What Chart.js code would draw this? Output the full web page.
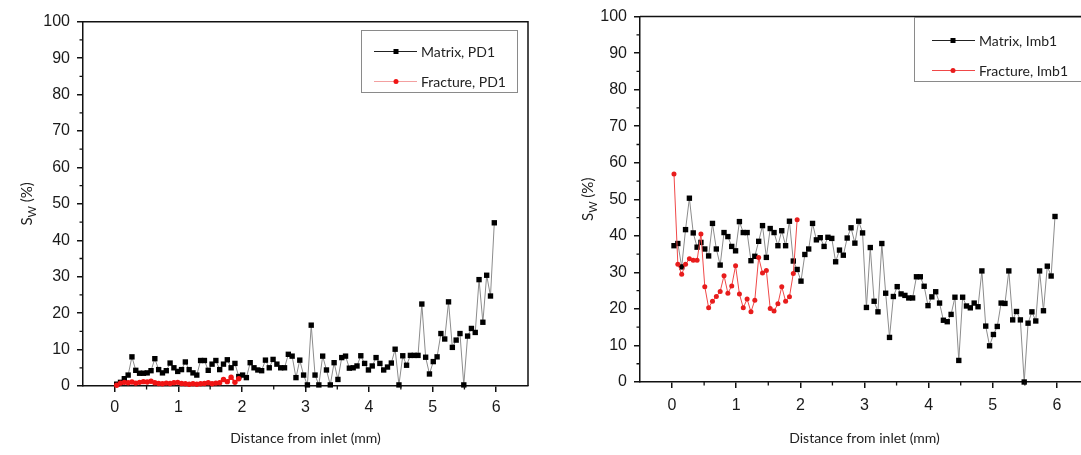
<!DOCTYPE html>
<html><head><meta charset="utf-8">
<script src="https://cdn.jsdelivr.net/npm/chart.js@4.4.1/dist/chart.umd.min.js"></script>
<style>
html,body{margin:0;padding:0;background:#fff;overflow:hidden;width:1081px;height:455px;position:relative;}
#w1{position:absolute;left:0;top:0;width:545px;height:455px;}
#w2{position:absolute;left:560px;top:0;width:545px;height:455px;}
</style></head><body>
<div id="w1"><canvas id="c1" width="545" height="455"></canvas></div>
<div id="w2"><canvas id="c2" width="545" height="455"></canvas></div>
<script>
// ---------- data ----------
const distance = [0.03,0.09,0.15,0.21,0.27,0.33,0.39,0.45,0.51,0.57,0.63,0.69,0.75,0.81,0.87,0.93,0.99,1.05,1.11,1.17,
 1.23,1.29,1.35,1.41,1.47,1.53,1.59,1.65,1.71,1.77,1.83,1.89,1.95,2.01,2.07,2.13,2.19,2.25,2.31,2.37,
 2.43,2.49,2.55,2.61,2.67,2.73,2.79,2.85,2.91,2.97,3.03,3.09,3.15,3.21,3.27,3.33,3.39,3.45,3.51,3.57,
 3.63,3.69,3.75,3.81,3.87,3.93,3.99,4.05,4.11,4.17,4.23,4.29,4.35,4.41,4.47,4.53,4.59,4.65,4.71,4.77,
 4.83,4.89,4.95,5.01,5.07,5.13,5.19,5.25,5.31,5.37,5.43,5.49,5.55,5.61,5.67,5.73,5.79,5.85,5.91,5.97];
const fractureDistance = [0.03,0.09,0.15,0.21,0.27,0.33,0.39,0.45,0.51,0.57,0.63,0.69,0.75,0.81,0.87,0.93,0.99,
 1.05,1.11,1.17,1.23,1.29,1.35,1.41,1.47,1.53,1.59,1.65,1.71,1.77,1.83,1.89,1.95];

const matrixPD1 = [0.5,1.0,2.0,3.0,8.0,4.3,3.5,3.5,3.6,4.2,
 7.5,4.5,3.6,4.2,6.3,5.0,4.0,4.5,6.6,4.5,
 3.6,3.0,7.0,7.0,4.3,6.0,7.0,4.5,6.0,7.2,
 5.0,6.2,2.6,3.0,2.3,6.4,5.0,4.4,4.2,7.1,
 5.0,7.3,6.0,5.0,5.0,8.7,8.2,2.3,7.1,3.0,
 0.3,16.7,3.0,0.3,8.2,4.4,0.3,6.4,1.8,7.8,
 8.2,4.9,5.0,5.5,8.3,6.2,4.4,5.5,7.8,6.2,
 4.4,5.2,6.3,10.1,0.3,8.3,5.7,8.4,8.4,8.4,
 22.5,7.9,3.3,6.7,8.0,14.4,12.9,23.1,10.6,12.6,
 14.4,0.3,13.7,15.8,14.7,29.2,17.5,30.4,24.7,44.8];
const fracturePD1 = [0.2,0.8,1.0,0.9,1.1,0.8,1.0,1.2,1.1,1.3,0.9,0.7,0.6,0.8,0.7,0.9,1.0,
 0.7,0.6,0.5,0.6,0.5,0.6,0.7,0.9,0.6,0.8,0.9,1.8,1.2,2.4,1.0,2.0];

const matrixImb1 = [37.3,37.9,31.5,41.7,50.3,40.8,36.9,38.2,36.4,34.5,
 43.4,36.4,32.0,40.9,39.8,37.1,35.9,43.9,40.9,40.9,
 33.2,34.4,38.5,42.8,34.1,42.0,40.9,37.3,41.4,37.3,
 44.0,33.1,30.8,27.6,34.9,36.4,43.4,38.9,39.5,37.1,
 39.6,39.3,32.9,36.1,34.7,39.4,42.2,38.0,44.0,40.8,
 20.4,36.8,22.1,19.2,37.9,24.3,12.2,23.4,26.1,24.1,
 23.7,23.0,23.0,28.8,28.8,26.2,20.9,23.3,24.7,21.6,
 16.9,16.5,18.5,23.2,5.9,23.2,20.8,20.3,21.6,20.6,
 30.4,15.3,9.9,13.0,15.2,21.6,21.5,30.4,17.0,19.3,
 17.0,0.0,16.1,19.2,16.7,30.4,19.5,31.7,29.0,45.3];
const fractureImb1 = [56.9,32.2,29.5,32.2,33.7,33.3,33.3,40.5,26.1,20.3,22.1,23.4,24.8,29.1,24.3,26.3,31.8,
 24.1,20.3,22.7,19.2,22.4,34.1,29.8,30.5,20.1,19.4,21.4,26.1,22.1,23.3,29.7,44.4];

const xTickValues = [0,1,2,3,4,5,6];
const xMinorTicks = [0.5,1.5,2.5,3.5,4.5,5.5];
const yMinorTicks = [5,15,25,35,45,55,65,75,85,95];
const legendPD1 = ['Matrix, PD1','Fracture, PD1'];
const legendImb1 = ['Matrix, Imb1','Fracture, Imb1'];
const xTitle = 'Distance from inlet (mm)';
const yTitleMain = 'S', yTitleSub = 'W', yTitleRest = ' (%)';

// ---------- helpers ----------
const TICK_FONT = {family:"'Liberation Sans Narrow','Liberation Sans',Arial,sans-serif", size:16};
const LABEL_FAMILY = "Lato,'Open Sans',sans-serif";

function pts(xs, ys){ return xs.map((d,i)=>({x:d, y:ys[i]})); }

const decor = {
  id:'decor',
  afterDraw(chart, args, o){
    const {ctx, chartArea:a, scales:{x, y}} = chart;
    ctx.save();
    ctx.strokeStyle = '#111'; ctx.lineWidth = 1.5;
    ctx.beginPath();
    ctx.moveTo(a.left, a.top); ctx.lineTo(a.right, a.top); ctx.lineTo(a.right, a.bottom);
    ctx.stroke();
    ctx.lineWidth = 1.3;
    ctx.beginPath();
    for (const v of yMinorTicks){ const p = y.getPixelForValue(v); ctx.moveTo(a.left - o.minor, p); ctx.lineTo(a.left, p); }
    for (const v of xMinorTicks){ const p = x.getPixelForValue(v); ctx.moveTo(p, a.bottom); ctx.lineTo(p, a.bottom + o.minor); }
    ctx.stroke();
    const cy = (a.top + a.bottom)/2;
    ctx.translate(o.yTitleX, cy);
    ctx.rotate(-Math.PI/2);
    ctx.fillStyle = '#222';
    const fMain = '15px ' + LABEL_FAMILY, fSub = '11px ' + LABEL_FAMILY;
    ctx.font = fMain; const w1 = ctx.measureText(yTitleMain).width, w3 = ctx.measureText(yTitleRest).width;
    ctx.font = fSub; const w2 = ctx.measureText(yTitleSub).width;
    let sx = -(w1 + w2 + w3)/2;
    ctx.textBaseline = 'middle'; ctx.textAlign = 'left';
    ctx.font = fMain; ctx.fillText(yTitleMain, sx, 0); sx += w1;
    ctx.font = fSub; ctx.fillText(yTitleSub, sx, 5); sx += w2;
    ctx.font = fMain; ctx.fillText(yTitleRest, sx, 0);
    ctx.setTransform(1,0,0,1,0,0);
    const L = o.legend;
    ctx.fillStyle = '#fff';
    ctx.fillRect(L.box[0], L.box[1], L.box[2], L.box[3]);
    ctx.strokeStyle = '#8a8a8a'; ctx.lineWidth = 1;
    ctx.strokeRect(L.box[0] + 0.5, L.box[1] + 0.5, L.box[2], L.box[3]);
    chart.data.datasets.slice().sort((p,q)=>p.legendIndex - q.legendIndex).forEach((ds, i) => {
      const ry = L.rows[i];
      ctx.strokeStyle = ds.legendLine; ctx.lineWidth = 1;
      ctx.beginPath(); ctx.moveTo(L.line[0], ry + 0.5); ctx.lineTo(L.line[1], ry + 0.5); ctx.stroke();
      ctx.fillStyle = ds.pointBackgroundColor;
      if (ds.pointStyle === 'rect'){ ctx.fillRect(L.marker - 2.5, ry - 2, 5, 5); }
      else { ctx.beginPath(); ctx.arc(L.marker, ry + 0.5, 2.5, 0, Math.PI*2); ctx.fill(); }
      ctx.fillStyle = '#222'; ctx.font = '14px ' + LABEL_FAMILY;
      ctx.textBaseline = 'middle'; ctx.textAlign = 'left';
      ctx.fillText(L.labels[i], L.text, ry + 1);
    });
    ctx.restore();
  }
};

function makeChart(id, g, matrix, fracture, fracStyle){
  const datasets = [
    { label: g.legend.labels[1], legendIndex:1, data: pts(fractureDistance, fracture), order:0,
      borderColor: fracStyle.line, legendLine: fracStyle.legendLine, borderWidth: fracStyle.w,
      pointStyle:'circle', pointRadius: fracStyle.r, pointBackgroundColor: fracStyle.point,
      pointBorderWidth: 0, tension:0, clip:false },
    { label: g.legend.labels[0], legendIndex:0, data: pts(distance, matrix), order:1,
      borderColor:'#8c8c8c', legendLine:'#222', borderWidth:1,
      pointStyle:'rect', pointRadius: g.rectR, pointBackgroundColor:'#000', pointBorderColor:'#000',
      pointBorderWidth:0, tension:0, clip:false }
  ];
  return new Chart(document.getElementById(id), {
    type:'line',
    data:{datasets},
    options:{
      responsive:false, animation:false, devicePixelRatio:1,
      layout:{padding:{left:0, top:g.top, right:g.right, bottom:0}},
      plugins:{legend:{display:false}, tooltip:{enabled:false}, decor:{minor:3.5, yTitleX:g.yTitleX, legend:g.legend}},
      scales:{
        x:{type:'linear', min:-0.5, max:6.5,
           afterBuildTicks: s => { s.ticks = xTickValues.map(v=>({value:v})); },
           afterFit: s => { s.height = g.xH; },
           border:{display:true, color:'#111', width:1.5},
           grid:{display:true, drawOnChartArea:false, drawTicks:true, tickLength:6, color:'#111', lineWidth:1.5},
           ticks:{font:TICK_FONT, color:'#1a1a1a', padding:g.xPad, maxRotation:0},
           title:{display:true, text:xTitle, color:'#222', font:{family:LABEL_FAMILY, size:14}, padding:{top:0, bottom:g.titlePad}}
        },
        y:{type:'linear', min:0, max:100,
           afterFit: s => { s.width = g.yW; },
           border:{display:true, color:'#111', width:1.5},
           grid:{display:true, drawOnChartArea:false, drawTicks:true, tickLength:6, color:'#111', lineWidth:1.5},
           ticks:{stepSize:10, font:TICK_FONT, color:'#1a1a1a', padding:7}
        }
      }
    },
    plugins:[decor]
  });
}

makeChart('c1', {top:21.7, right:17, xH:69, yW:83, xPad:6, titlePad:8, yTitleX:27, rectR:3.8,
  legend:{box:[361,30,156,62], rows:[51,81], line:[374,417], marker:396, text:421, labels:legendPD1}},
  matrixPD1, fracturePD1, {line:'#f02828', legendLine:'#f3a0a0', point:'#f01414', r:2.7, w:2});

makeChart('c2', {top:10.7, right:16, xH:73, yW:80, xPad:8, titlePad:8, yTitleX:28, rectR:3.8,
  legend:{box:[354,17,200,64], rows:[40,70], line:[372,415], marker:393, text:419, labels:legendImb1}},
  matrixImb1, fractureImb1, {line:'#f04848', legendLine:'#f04848', point:'#e81c1c', r:2.5, w:1});
</script>
</body></html>
